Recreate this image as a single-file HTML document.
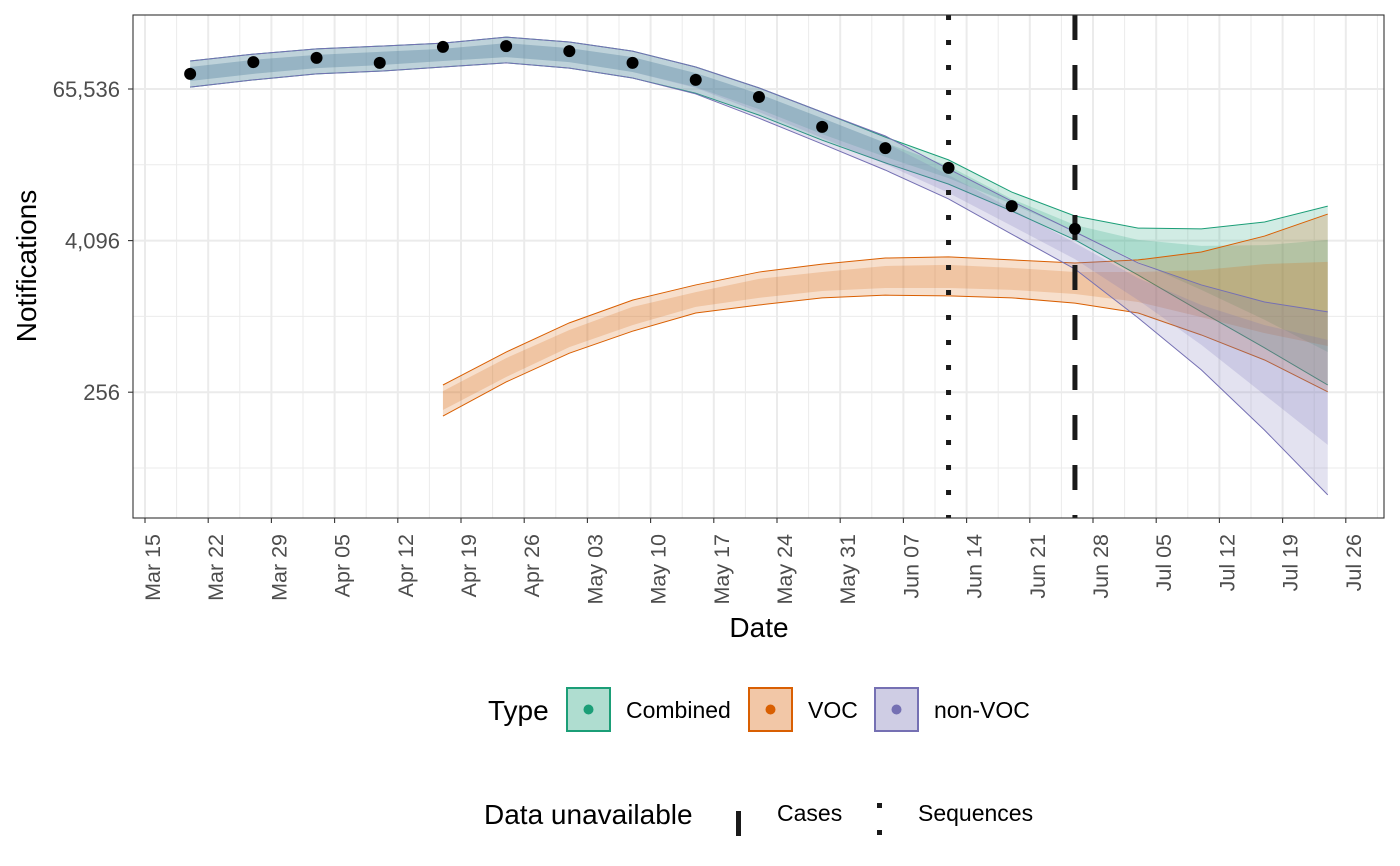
<!DOCTYPE html>
<html><head><meta charset="utf-8"><style>
html,body{margin:0;padding:0;background:#fff;}
svg{display:block;font-family:"Liberation Sans",sans-serif;}
</style></head><body>
<svg id="chart" width="1400" height="866" xmlns="http://www.w3.org/2000/svg">
<rect width="1400" height="866" fill="#fff"/>
<g id="grid"></g>
<g id="bands"></g>
<g id="vlines"></g>
<g id="pts"></g>
<rect x="133" y="15" width="1251" height="503" fill="none" stroke="#333" stroke-width="1.1"/>
<g id="axes"></g>
<text x="759" y="637" font-size="28" text-anchor="middle" fill="#000">Date</text>
<text transform="translate(36,266) rotate(-90)" font-size="28" text-anchor="middle" fill="#000">Notifications</text>
<g>
<text x="488" y="720" font-size="28">Type</text>
<g><rect x="567" y="688" width="43" height="43" fill="#1b9e77" fill-opacity="0.35" stroke="#1b9e77" stroke-width="2"/><circle cx="588.5" cy="709.5" r="5" fill="#1b9e77"/><text x="626" y="718" font-size="23">Combined</text></g>
<g><rect x="749" y="688" width="43" height="43" fill="#d95f02" fill-opacity="0.35" stroke="#d95f02" stroke-width="2"/><circle cx="770.5" cy="709.5" r="5" fill="#d95f02"/><text x="808" y="718" font-size="23">VOC</text></g>
<g><rect x="875" y="688" width="43" height="43" fill="#7570b3" fill-opacity="0.35" stroke="#7570b3" stroke-width="2"/><circle cx="896.5" cy="709.5" r="5" fill="#7570b3"/><text x="934" y="718" font-size="23">non-VOC</text></g>
</g>
<g>
<text x="484" y="824" font-size="28">Data unavailable</text>
<g><rect x="736" y="811" width="5" height="25" fill="#1a1a1a"/><text x="777" y="821" font-size="23">Cases</text></g>
<g><rect x="877" y="803" width="5" height="5" fill="#1a1a1a"/><rect x="877" y="830" width="5" height="5" fill="#1a1a1a"/><text x="918" y="821" font-size="23">Sequences</text></g>
</g>
</svg>
<script>
// dates (days since Mar 15) for weekly samples starting Mar 20
const startDay = 5;
const nWeeks = 19;
const xTickLabels = ["Mar 15","Mar 22","Mar 29","Apr 05","Apr 12","Apr 19","Apr 26","May 03","May 10","May 17","May 24","May 31","Jun 07","Jun 14","Jun 21","Jun 28","Jul 05","Jul 12","Jul 19","Jul 26"];
const yTickValues = [256, 4096, 65536];
const yTickLabels = ["256","4,096","65,536"];
// log2 of notifications
const combinedHi90 = [16.74,16.92,17.06,17.13,17.21,17.37,17.24,17.00,16.58,16.03,15.39,14.73,14.13,13.28,12.65,12.33,12.31,12.49,12.91];
const combinedHi50 = [16.58,16.77,16.90,16.98,17.06,17.21,17.08,16.84,16.42,15.87,15.23,14.58,13.97,13.10,12.41,12.02,11.86,11.88,12.02];
const combinedLo50 = [16.21,16.40,16.55,16.63,16.74,16.84,16.71,16.45,16.05,15.47,14.81,14.21,13.65,12.97,12.23,11.44,10.70,9.91,9.06];
const combinedLo90 = [16.05,16.24,16.40,16.47,16.58,16.69,16.55,16.29,15.89,15.31,14.65,14.05,13.49,12.78,12.02,11.09,10.12,9.17,8.19];
const vocStart = 4;
const vocHi90 = [8.19,9.06,9.83,10.43,10.83,11.17,11.38,11.54,11.57,11.49,11.41,11.49,11.70,12.12,12.70];
const vocHi50 = [8.03,8.90,9.64,10.25,10.64,10.99,11.17,11.33,11.36,11.28,11.17,11.17,11.22,11.38,11.44];
const vocLo50 = [7.53,8.40,9.19,9.77,10.25,10.49,10.67,10.75,10.75,10.70,10.59,10.38,9.98,9.56,9.22];
const vocLo90 = [7.37,8.27,9.03,9.61,10.09,10.30,10.49,10.56,10.54,10.49,10.35,10.09,9.51,8.85,8.01];
const nonvocHi90 = [16.74,16.92,17.06,17.13,17.21,17.37,17.24,17.00,16.58,16.03,15.39,14.76,13.89,13.04,12.23,11.41,10.83,10.38,10.12];
const nonvocHi50 = [16.58,16.77,16.90,16.98,17.06,17.21,17.08,16.84,16.42,15.87,15.23,14.58,13.73,12.83,11.94,11.01,10.30,9.77,9.38];
const nonvocLo50 = [16.21,16.40,16.55,16.63,16.74,16.84,16.71,16.45,16.03,15.39,14.71,14.02,13.26,12.39,11.51,10.43,9.25,7.93,6.61];
const nonvocLo90 = [16.05,16.24,16.40,16.47,16.58,16.69,16.55,16.29,15.87,15.23,14.55,13.86,13.10,12.17,11.25,9.96,8.59,7.00,5.29];
const observedLog2 = [16.40,16.71,16.82,16.69,17.11,17.13,17.00,16.69,16.24,15.79,15.00,14.44,13.92,12.91,12.31];
const casesCutDay = 103;   // Jun 26
const seqCutDay = 89;      // Jun 12

const NS = "http://www.w3.org/2000/svg";
const X0 = 145, PXDAY = 63.2/7;
const xs = d => X0 + d*PXDAY;
const ys = l => 89 + (16 - l)*37.9;
function mk(tag, attrs, parent){const e=document.createElementNS(NS,tag);for(const k in attrs)e.setAttribute(k,attrs[k]);parent.appendChild(e);return e;}
const grid=document.getElementById('grid'), bands=document.getElementById('bands'), vl=document.getElementById('vlines'), pts=document.getElementById('pts'), axes=document.getElementById('axes');

for(let w=-0.5; w<=20; w+=0.5){const x=xs(w*7); if(x<133||x>1384) continue;
  const l=mk('line',{x1:x,x2:x,y1:15,y2:518,stroke:'#ebebeb','stroke-width':Number.isInteger(w)?2:1},grid);
  
  }
for(let p=2; p<=18; p+=2){const y=ys(p); if(y<15||y>518) continue; const major=(p%4===0);
  const l=mk('line',{x1:133,x2:1384,y1:y,y2:y,stroke:'#ebebeb','stroke-width':major?2:1},grid);
  
  }

function band(hi, lo, start, color, op, stroke, name){
  let d='';
  hi.forEach((v,i)=>{d+=(i?'L':'M')+xs(startDay+7*(i+start))+','+ys(v);});
  for(let i=lo.length-1;i>=0;i--) d+='L'+xs(startDay+7*(i+start))+','+ys(lo[i]);
  const p=mk('path',{d:d+'Z',fill:color,'fill-opacity':op,stroke:'none'},bands);
  
  
  if(stroke){[hi,lo].forEach(arr=>{let s='';arr.forEach((v,i)=>{s+=(i?'L':'M')+xs(startDay+7*(i+start))+','+ys(v);});
    const q=mk('path',{d:s,fill:'none',stroke:color,'stroke-width':1},bands);
    
    });}
}
band(combinedHi90,combinedLo90,0,'#1b9e77',0.2,true,'combined-ribbon-90');
band(combinedHi50,combinedLo50,0,'#1b9e77',0.2,false,'combined-ribbon-50');
band(vocHi90,vocLo90,vocStart,'#d95f02',0.2,true,'voc-ribbon-90');
band(vocHi50,vocLo50,vocStart,'#d95f02',0.2,false,'voc-ribbon-50');
band(nonvocHi90,nonvocLo90,0,'#7570b3',0.2,true,'non-voc-ribbon-90');
band(nonvocHi50,nonvocLo50,0,'#7570b3',0.2,false,'non-voc-ribbon-50');

const dl=mk('line',{x1:xs(seqCutDay),x2:xs(seqCutDay),y1:15,y2:518,stroke:'#1a1a1a','stroke-width':5,'stroke-dasharray':'5 20'},vl);


const cl=mk('line',{x1:xs(casesCutDay),x2:xs(casesCutDay),y1:15,y2:518,stroke:'#1a1a1a','stroke-width':5,'stroke-dasharray':'25 25'},vl);



observedLog2.forEach((v,i)=>{const c=mk('circle',{cx:xs(startDay+7*i),cy:ys(v),r:6,fill:'#000'},pts);
  
  });

xTickLabels.forEach((t,i)=>{const x=xs(7*i);
  const tk=mk('line',{x1:x,x2:x,y1:518,y2:523,stroke:'#333','stroke-width':1.1},axes);
  
  
  const tx=mk('text',{transform:`translate(${x+15},534) rotate(-90)`,'font-size':21.5,'text-anchor':'end',fill:'#4d4d4d'},axes);
  tx.textContent=t;
  
  });
yTickValues.forEach((v,i)=>{const y=ys(Math.log2(v));
  const tk=mk('line',{x1:128,x2:133,y1:y,y2:y,stroke:'#333','stroke-width':1.1},axes);
  
  
  const tx=mk('text',{x:120,y:y+8,'font-size':22,'text-anchor':'end',fill:'#4d4d4d'},axes);
  tx.textContent=yTickLabels[i];
  
  });
</script>
</body></html>
